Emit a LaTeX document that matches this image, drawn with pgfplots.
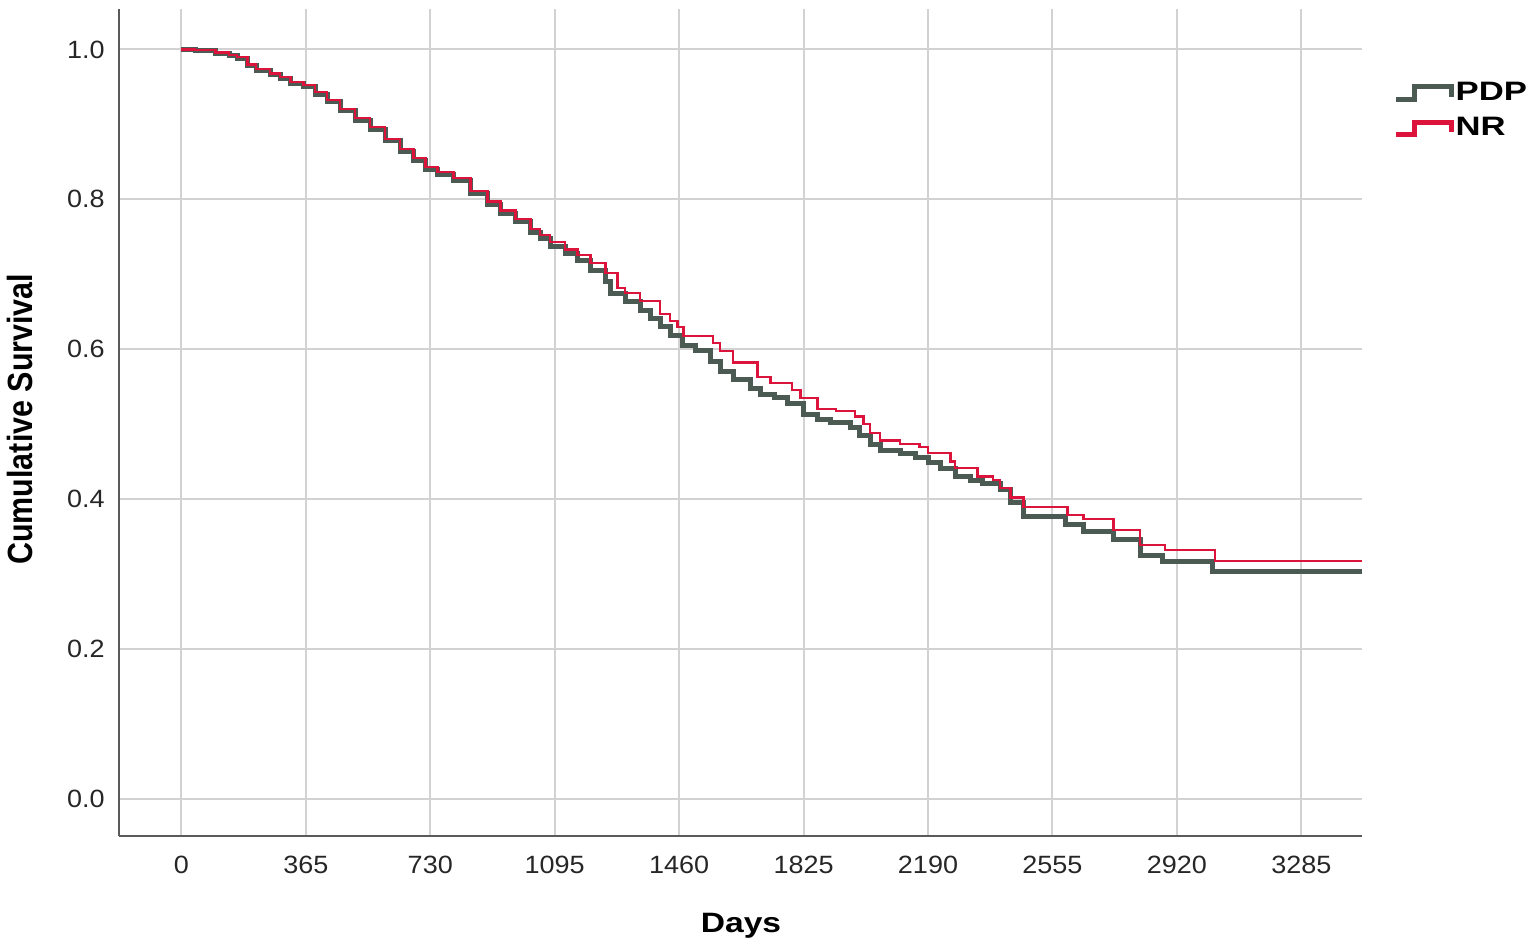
\documentclass[border=0pt]{standalone}
\usepackage{fontspec}
\setmainfont{Liberation Sans}
\newfontfamily\tickfont[FakeStretch=1.08]{Liberation Sans}
\newfontfamily\labfont[FakeStretch=1.2]{Liberation Sans}
\newfontfamily\ylabfont[FakeStretch=0.87]{Liberation Sans}
\newfontfamily\legfont[FakeStretch=1.3]{Liberation Sans}
\usepackage{pgfplots}
\pgfplotsset{compat=1.18}
\definecolor{pdpcol}{HTML}{4B5B53}
\definecolor{nrcol}{HTML}{DC143C}
\definecolor{gridcol}{HTML}{D2D2D2}
\definecolor{axcol}{HTML}{5A5A5A}
\begin{document}
\begin{tikzpicture}
\path[use as bounding box] (-35.7pt,-33.9pt) rectangle (424.8pt,250.8pt);
\begin{axis}[
  at={(0,0)}, anchor=south west,
  scale only axis,
  width=372.9pt, height=248.1pt,
  xmin=-183, xmax=3463,
  ymin=-0.050, ymax=1.054,
  axis x line=bottom, axis y line=left,
  axis line style={draw=axcol, line width=0.8pt, -},
  xtick={0,365,730,1095,1460,1825,2190,2555,2920,3285},
  ytick={0,0.2,0.4,0.6,0.8,1.0},
  major tick length=0pt,
  grid=major,
  major grid style={draw=gridcol, line width=0.6pt},
  /pgf/number format/assume math mode=true,
  /pgf/number format/set thousands separator={},
  yticklabel style={/pgf/number format/fixed, /pgf/number format/fixed zerofill, /pgf/number format/precision=1, xshift=-0.8pt},
  xticklabel style={yshift=-2.6pt},
  tick label style={font=\tickfont\fontsize{7.5}{9}\selectfont, text=black!85},
  xlabel={Days},
  ylabel={Cumulative Survival},
  xlabel style={at={(axis description cs:0.5004,-0.1162)}, anchor=base, font=\labfont\bfseries\fontsize{8.4}{10}\selectfont},
  ylabel style={at={(axis description cs:-0.0692,0.504)}, anchor=base, font=\ylabfont\bfseries\fontsize{10.5}{12}\selectfont},
  legend style={at={(axis description cs:1.0249,0.915)}, anchor=north west, draw=none, fill=none,
    font=\legfont\bfseries\fontsize{8}{9}\selectfont, row sep=2.4pt, inner sep=0pt,
    nodes={inner sep=0.6pt}},
  legend cell align=left,
  clip=false,
]
\addplot[const plot, draw=pdpcol, line width=1.5pt,
  legend image code/.code={\draw[pdpcol, line width=1.5pt] (0pt,-1.8pt) -- (5.5pt,-1.8pt) -- (5.5pt,2pt) -- (16.5pt,2pt) -- (16.5pt,-1pt);}]
table {
0 1.000
40 0.998
100 0.995
140 0.992
164 0.988
194 0.978
220 0.972
260 0.966
290 0.961
320 0.955
358 0.951
393 0.940
428 0.930
466 0.918
510 0.905
554 0.893
598 0.878
642 0.864
681 0.852
716 0.840
751 0.833
798 0.825
848 0.808
898 0.793
936 0.781
980 0.770
1024 0.756
1053 0.747
1082 0.737
1126 0.727
1162 0.718
1200 0.705
1244 0.690
1258 0.674
1302 0.664
1346 0.652
1376 0.641
1405 0.630
1434 0.618
1470 0.605
1508 0.598
1552 0.584
1581 0.570
1619 0.560
1669 0.548
1700 0.540
1740 0.535
1778 0.527
1825 0.513
1866 0.506
1904 0.502
1962 0.496
1990 0.485
2021 0.472
2050 0.465
2109 0.460
2153 0.455
2191 0.448
2226 0.440
2270 0.430
2314 0.425
2350 0.420
2402 0.412
2432 0.395
2470 0.376
2593 0.366
2646 0.357
2734 0.346
2813 0.325
2878 0.317
3024 0.303
3463 0.303
};
\addlegendentry{PDP}
\addplot[const plot, draw=nrcol, line width=0.65pt,
  legend image code/.code={\draw[nrcol, line width=1.5pt] (0pt,-1.8pt) -- (5.5pt,-1.8pt) -- (5.5pt,2pt) -- (16.5pt,2pt) -- (16.5pt,-1pt);}]
table {
0 1.000
40 0.999
100 0.996
140 0.993
164 0.990
194 0.980
220 0.974
260 0.968
290 0.963
320 0.957
358 0.953
393 0.943
428 0.933
466 0.921
510 0.908
554 0.896
598 0.881
642 0.867
681 0.855
716 0.843
751 0.836
798 0.828
848 0.811
898 0.797
936 0.785
980 0.774
1024 0.760
1053 0.752
1082 0.743
1126 0.733
1162 0.726
1200 0.715
1244 0.702
1279 0.682
1302 0.675
1346 0.664
1405 0.647
1434 0.638
1455 0.629
1473 0.618
1560 0.608
1581 0.598
1619 0.582
1690 0.563
1728 0.555
1790 0.545
1816 0.535
1866 0.520
1920 0.517
1977 0.510
2001 0.500
2021 0.488
2050 0.478
2109 0.473
2165 0.469
2191 0.461
2256 0.450
2270 0.441
2335 0.430
2380 0.425
2402 0.415
2432 0.402
2470 0.389
2599 0.378
2646 0.373
2734 0.359
2813 0.339
2886 0.332
3033 0.317
3463 0.317
};
\addlegendentry{NR}
\end{axis}
\end{tikzpicture}
\end{document}
